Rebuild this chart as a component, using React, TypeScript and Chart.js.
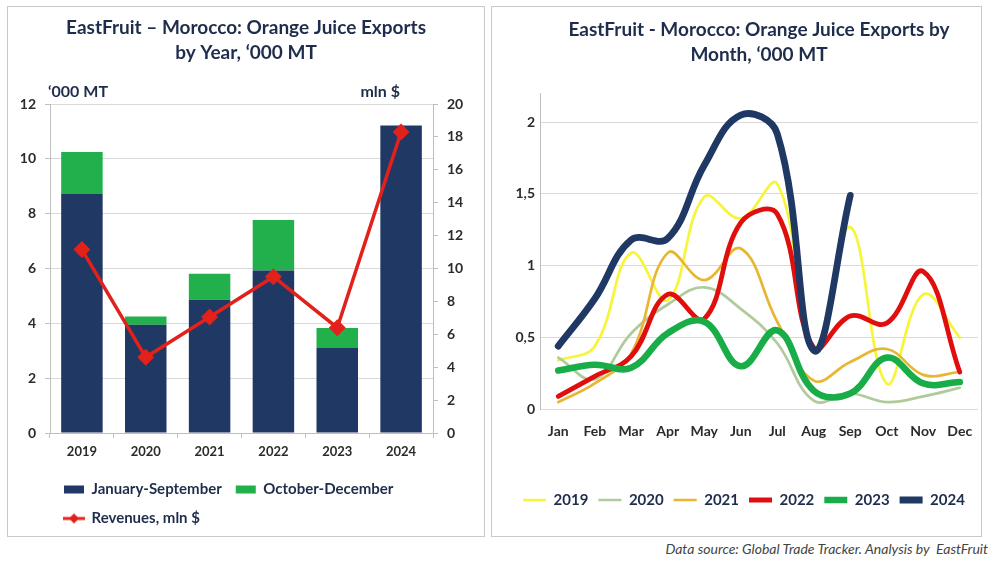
import React, { useEffect, useRef } from 'react';
import { Chart, registerables } from 'chart.js';

Chart.register(...registerables);

// ---------- Data ----------
const YEARS = ['2019', '2020', '2021', '2022', '2023', '2024'];
const JAN_SEP = [8.72, 3.95, 4.86, 5.93, 3.1, 11.22];
const OCT_DEC = [1.53, 0.3, 0.95, 1.84, 0.73, 0];
const REVENUES = [11.15, 4.6, 7.05, 9.5, 6.4, 18.3];

const MONTHS = ['Jan', 'Feb', 'Mar', 'Apr', 'May', 'Jun', 'Jul', 'Aug', 'Sep', 'Oct', 'Nov', 'Dec'];
const M2019 = [0.34, 0.44, 1.09, 0.76, 1.48, 1.33, 1.57, 0.43, 1.27, 0.18, 0.8, 0.5];
const M2020 = [0.36, 0.21, 0.53, 0.73, 0.85, 0.7, 0.46, 0.06, 0.11, 0.05, 0.09, 0.15];
const M2021 = [0.05, 0.18, 0.39, 1.09, 0.9, 1.12, 0.61, 0.2, 0.33, 0.42, 0.24, 0.26];
const M2022 = [0.09, 0.23, 0.37, 0.8, 0.63, 1.3, 1.36, 0.43, 0.65, 0.6, 0.96, 0.26];
const M2023 = [0.27, 0.31, 0.29, 0.53, 0.61, 0.3, 0.55, 0.13, 0.11, 0.36, 0.18, 0.19];
const M2024 = [0.44, 0.77, 1.18, 1.19, 1.7, 2.05, 1.92, 0.41, 1.49, null, null, null];

const LEFT_TITLE = ['EastFruit – Morocco: Orange Juice Exports', 'by Year, ‘000 MT'];
const RIGHT_TITLE = ['EastFruit - Morocco: Orange Juice Exports by', 'Month, ‘000 MT'];
const UNIT_LEFT = '‘000 MT';
const UNIT_RIGHT = 'mln $';
const LEGEND_JS = 'January-September';
const LEGEND_OD = 'October-December';
const LEGEND_REV = 'Revenues, mln $';
const SOURCE = 'Data source: Global Trade Tracker. Analysis by  EastFruit';

// ---------- Styles ----------
const FONT = "Lato, 'Open Sans', sans-serif";
const TEXT = '#1F2D4D';
const TICK = '#2b2b2b';
const GRID = '#d9d9d9';
const AXIS = '#bfbfbf';
const NAVY = '#1F3864';
const GREEN_BAR = '#22B04C';
const RED = '#E3211B';

const SERIES_STYLE = [
  { color: '#F7F53A', width: 2.7 },
  { color: '#AFCB9C', width: 2.7 },
  { color: '#E9B632', width: 2.7 },
  { color: '#E10E0E', width: 4.8 },
  { color: '#19AD48', width: 6.6 },
  { color: '#1F3864', width: 6.8 },
];

Chart.defaults.font.family = FONT;

function revenueIcon(): HTMLCanvasElement {
  const c = document.createElement('canvas');
  c.width = 22;
  c.height = 12;
  const g = c.getContext('2d')!;
  g.strokeStyle = RED;
  g.lineWidth = 3;
  g.beginPath();
  g.moveTo(0, 6);
  g.lineTo(22, 6);
  g.stroke();
  g.fillStyle = RED;
  g.beginPath();
  g.moveTo(11, 1);
  g.lineTo(16, 6);
  g.lineTo(11, 11);
  g.lineTo(6, 6);
  g.closePath();
  g.fill();
  return c;
}

const unitLabels = {
  id: 'unitLabels',
  afterDraw(chart: any) {
    const { ctx, chartArea } = chart;
    ctx.save();
    ctx.font = `bold 16px ${FONT}`;
    ctx.fillStyle = TEXT;
    ctx.textBaseline = 'middle';
    ctx.textAlign = 'left';
    ctx.fillText(UNIT_LEFT, chartArea.left - 2, chartArea.top - 12);
    ctx.textAlign = 'right';
    ctx.fillText(UNIT_RIGHT, chartArea.right - 33, chartArea.top - 12);
    ctx.restore();
  },
};

export default function App() {
  const leftRef = useRef<HTMLCanvasElement>(null);
  const rightRef = useRef<HTMLCanvasElement>(null);

  useEffect(() => {
    const icon = revenueIcon();
    const left = new Chart(leftRef.current!, {
      type: 'bar',
      data: {
        labels: YEARS,
        datasets: [
          {
            type: 'bar',
            label: LEGEND_JS,
            data: JAN_SEP,
            backgroundColor: NAVY,
            yAxisID: 'y',
            order: 1,
            barPercentage: 0.65,
            categoryPercentage: 1,
          },
          {
            type: 'bar',
            label: LEGEND_OD,
            data: OCT_DEC,
            backgroundColor: GREEN_BAR,
            yAxisID: 'y',
            order: 1,
            barPercentage: 0.65,
            categoryPercentage: 1,
          },
          {
            type: 'line',
            label: LEGEND_REV,
            data: REVENUES,
            borderColor: RED,
            backgroundColor: RED,
            borderWidth: 3.5,
            pointStyle: 'rectRot',
            pointRadius: 6,
            pointBackgroundColor: RED,
            pointBorderColor: RED,
            tension: 0,
            yAxisID: 'y1',
            order: 0,
          } as any,
        ],
      },
      options: {
        responsive: false,
        animation: false,
        layout: { padding: { left: 0, right: 0, top: 0, bottom: 0 } },
        plugins: {
          title: {
            display: true,
            text: LEFT_TITLE,
            color: TEXT,
            font: { size: 19, weight: 'bold', lineHeight: 1.3 },
            padding: { top: 9, bottom: 38.6 },
          },
          legend: {
            position: 'bottom',
            fullSize: false,
            align: 'start',
            labels: {
              usePointStyle: true,
              pointStyleWidth: 20,
              boxHeight: 8,
              padding: 14,
              color: TEXT,
              font: { size: 15, weight: 'bold' },
              sort: (a: any, b: any) => a.datasetIndex - b.datasetIndex,
              generateLabels: (chart: any) => {
                const items = Chart.defaults.plugins.legend.labels.generateLabels(chart);
                return items.map((it: any) => {
                  if (it.datasetIndex === 2) {
                    return { ...it, pointStyle: icon, lineWidth: 0 };
                  }
                  return { ...it, pointStyle: 'rect', lineWidth: 0 };
                });
              },
            },
          },
          tooltip: { enabled: false },
        },
        scales: {
          x: {
            stacked: true,
            offset: true,
            grid: {
              display: true,
              drawOnChartArea: false,
              drawTicks: true,
              tickLength: 5,
              offset: true,
              color: AXIS,
            },
            border: { display: true, color: AXIS },
            ticks: { color: TICK, font: { size: 13, weight: 'bold' }, padding: 6 },
            afterFit: (s: any) => {
              s.height = 35;
            },
          },
          y: {
            stacked: true,
            position: 'left',
            min: 0,
            max: 12,
            ticks: { stepSize: 2, color: TICK, font: { size: 14, weight: 'bold' }, padding: 9 },
            grid: { color: GRID, tickLength: 5, tickColor: AXIS },
            border: { display: true, color: AXIS },
            afterFit: (s: any) => {
              s.width = 42;
            },
          },
          y1: {
            position: 'right',
            min: 0,
            max: 20,
            ticks: { stepSize: 2, color: TICK, font: { size: 14, weight: 'bold' }, padding: 9 },
            grid: { drawOnChartArea: false, tickLength: 5, color: AXIS },
            border: { display: true, color: AXIS },
            afterFit: (s: any) => {
              s.width = 51;
            },
          },
        },
      },
      plugins: [unitLabels],
    });

    const monthly = [M2019, M2020, M2021, M2022, M2023, M2024];
    const right = new Chart(rightRef.current!, {
      type: 'line',
      data: {
        labels: MONTHS,
        datasets: monthly.map((d, i) => ({
          label: YEARS[i],
          data: d,
          borderColor: SERIES_STYLE[i].color,
          backgroundColor: SERIES_STYLE[i].color,
          borderWidth: SERIES_STYLE[i].width,
          borderCapStyle: 'round',
          borderJoinStyle: 'round',
          pointRadius: 0,
          pointStyle: 'line',
          tension: 0.4,
          spanGaps: false,
          order: 6 - i,
        })) as any,
      },
      options: {
        responsive: false,
        animation: false,
        layout: { padding: { left: 18, right: 3, top: 0, bottom: 18.5 } },
        plugins: {
          title: {
            display: true,
            fullSize: false,
            text: RIGHT_TITLE,
            color: TEXT,
            font: { size: 19, weight: 'bold', lineHeight: 1.3 },
            padding: { top: 11, bottom: 26.1 },
          },
          legend: {
            position: 'bottom',
            fullSize: true,
            labels: {
              usePointStyle: true,
              pointStyleWidth: 23,
              padding: 10,
              color: TEXT,
              font: { size: 15, weight: 'bold' },
              sort: (a: any, b: any) => a.datasetIndex - b.datasetIndex,
            },
          },
          tooltip: { enabled: false },
        },
        scales: {
          x: {
            offset: true,
            grid: { display: false },
            border: { display: false },
            ticks: { color: TICK, font: { size: 14, weight: 'bold' }, padding: 6 },
            afterFit: (s: any) => {
              s.height = 73.2;
            },
          },
          y: {
            min: 0,
            max: 2.2,
            ticks: {
              stepSize: 0.5,
              color: TICK,
              font: { size: 14, weight: 'bold' },
              padding: 5,
              callback: (v: any) => String(v).replace('.', ','),
            },
            afterBuildTicks: (s: any) => {
              s.ticks = s.ticks.filter((t: any) => Math.abs(t.value * 2 - Math.round(t.value * 2)) < 1e-9);
            },
            grid: { color: GRID, drawTicks: false },
            border: { display: true, color: AXIS },
            afterFit: (s: any) => {
              s.width = 30;
            },
          },
        },
      },
    });

    return () => {
      left.destroy();
      right.destroy();
    };
  }, []);

  return (
    <div style={{ position: 'absolute', left: 0, top: 0, width: 1000, height: 562, background: '#fff' }}>
      <div
        style={{
          position: 'absolute',
          left: 7,
          top: 6,
          width: 476,
          height: 529,
          border: '1px solid #c9c9c9',
        }}
      >
        <canvas ref={leftRef} width={476} height={529} style={{ display: 'block' }} />
      </div>
      <div
        style={{
          position: 'absolute',
          left: 491,
          top: 6,
          width: 489,
          height: 529,
          border: '1px solid #c9c9c9',
        }}
      >
        <canvas ref={rightRef} width={489} height={529} style={{ display: 'block' }} />
      </div>
      <div
        style={{
          position: 'absolute',
          right: 12,
          top: 540,
          fontFamily: FONT,
          fontStyle: 'italic',
          fontSize: 14,
          color: '#444',
          whiteSpace: 'pre',
        }}
      >
        {SOURCE}
      </div>
    </div>
  );
}
